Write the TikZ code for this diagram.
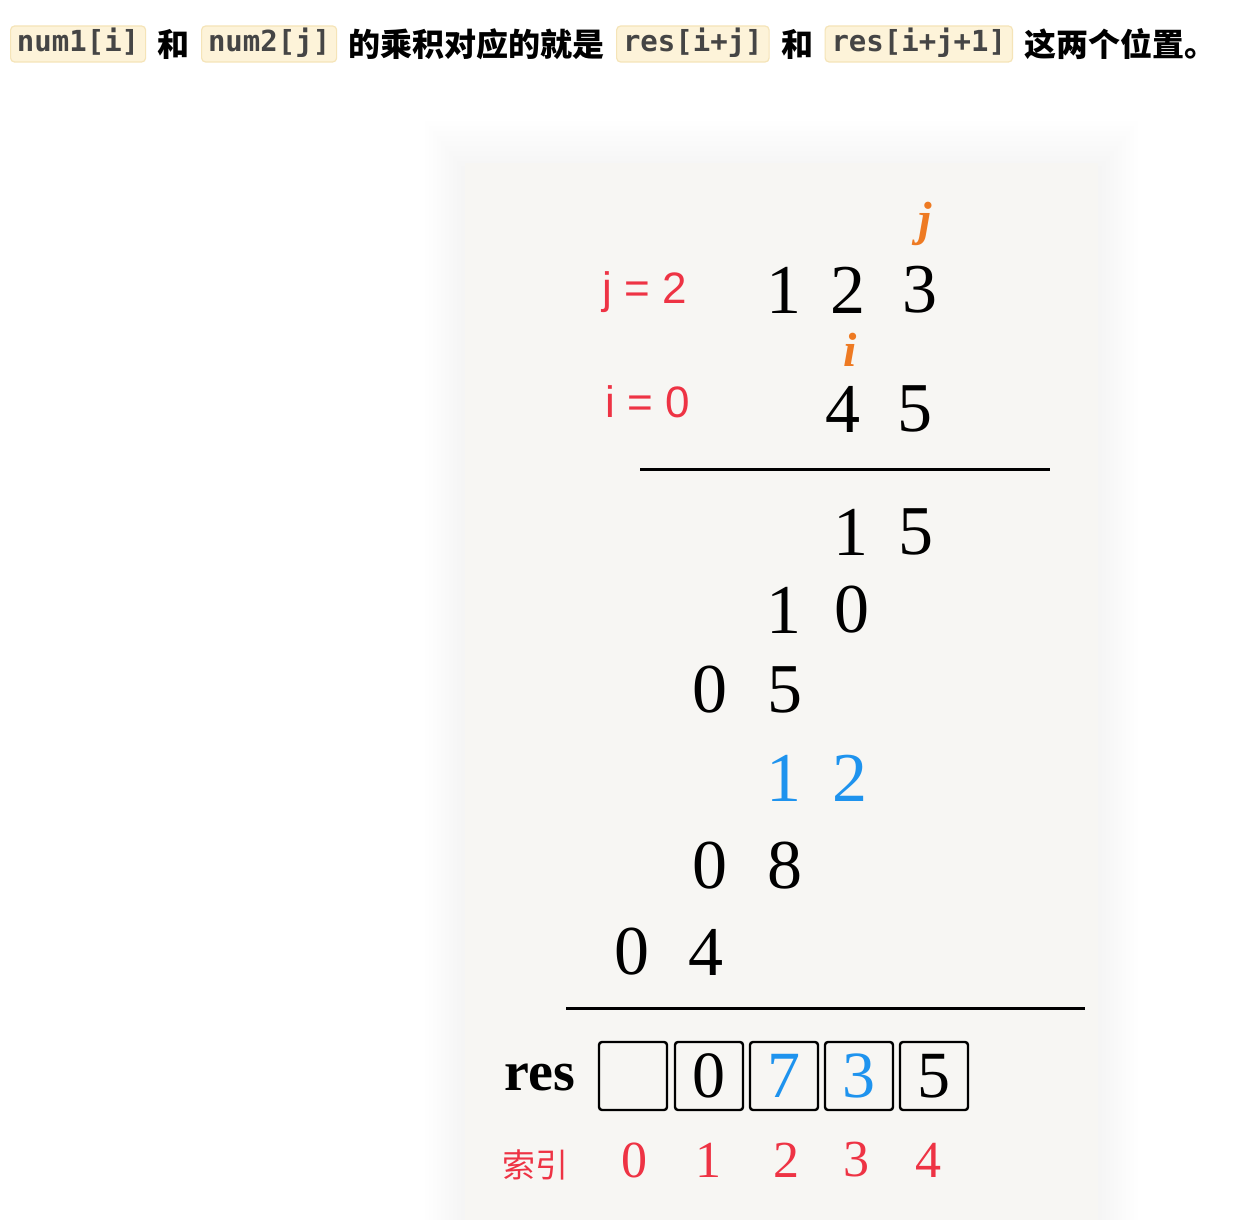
\documentclass[tikz,border=0pt]{standalone}
\usepackage{fontspec}
\usepackage{xcolor}
\usepackage{tikz}
\usetikzlibrary{positioning}

\setmainfont{Liberation Serif}
\newfontfamily\codefont{DejaVu Sans Mono}
\newfontfamily\cjkfont{Noto Sans CJK SC}
\newfontfamily\labelfont{Liberation Sans}

\definecolor{chipfill}{HTML}{FDF3D9}
\definecolor{chipline}{HTML}{F5E4B8}
\definecolor{codegray}{HTML}{454545}
\definecolor{paper}{HTML}{F7F6F3}
\definecolor{idxred}{HTML}{EE3344}
\definecolor{carryblue}{HTML}{1E93EE}
\definecolor{ptrorange}{HTML}{EE7A22}

\begin{document}
\begin{tikzpicture}[
  x=0.5pt, y=-0.5pt,
  node distance=5.5pt,
  chip/.style={fill=chipfill, draw=chipline, line width=0.6pt,
               rounded corners=2pt, inner xsep=3.2pt, inner ysep=1.5pt,
               text height=11.5pt, text depth=3.5pt, text=codegray,
               font=\codefont\bfseries\fontsize{14.5}{16}\selectfont},
  cn/.style={inner sep=0pt, font=\cjkfont\bfseries\fontsize{16}{18}\selectfont},
  digit/.style={inner sep=0pt, font=\fontsize{35}{40}\selectfont},
  varlabel/.style={inner sep=0pt, text=idxred, font=\labelfont\fontsize{22}{24}\selectfont},
  ptr/.style={inner sep=0pt, text=ptrorange, font=\itshape\bfseries\fontsize{24}{26}\selectfont},
  cell/.style={draw, line width=1.2pt, rounded corners=1.5pt, minimum size=34pt,
               inner sep=0pt, font=\fontsize{33}{36}\selectfont},
  idx/.style={inner sep=0pt, text=idxred, font=\fontsize{26}{28}\selectfont},
  rule/.style={line width=1.5pt}
]
  \useasboundingbox (0,0) rectangle (1244,1220);
  \fill[white] (0,0) rectangle (1244,1220);

  % header sentence
  \node[chip, anchor=west] (n1) at (10,44) {num1[i]};
  \node[cn, right=of n1] (he1) {和};
  \node[chip, right=of he1] (n2) {num2[j]};
  \node[cn, right=of n2] (prod) {的乘积对应的就是};
  \node[chip, right=of prod] (r1) {res[i+j]};
  \node[cn, right=of r1] (he2) {和};
  \node[chip, right=of he2] (r2) {res[i+j+1]};
  \node[cn, right=of r2] (place) {这两个位置。};

  % paper with soft shadow
  \foreach \s in {1,...,10}
    \fill[black, opacity=0.005] (465-4*\s,163-5*\s+8) rectangle (1098+4*\s,1220);
  \fill[paper] (465,163) rectangle (1098,1220);

  % factors
  \node[varlabel] (jlab) at (645,292) {j = 2};
  \node[varlabel] (ilab) at (648,402) {i = 0};
  \node[digit] (a1) at (784,290) {1};
  \node[digit] (a2) at (848,290) {2};
  \node[digit] (a3) at (920,290) {3};
  \node[digit] (b1) at (843,409) {4};
  \node[digit] (b2) at (915,409) {5};
  \node[ptr] (jptr) at (925,224) {j};
  \node[ptr] (iptr) at (850,350) {i};

  \coordinate (ruleAl) at (640,469);
  \coordinate (ruleAr) at (1050,469);
  \draw[rule] (ruleAl) -- (ruleAr);

  % partial products
  \node[digit] (p1a) at (851,532) {1};
  \node[digit] (p1b) at (916,532) {5};
  \node[digit] (p2a) at (784,610) {1};
  \node[digit] (p2b) at (852,610) {0};
  \node[digit] (p3a) at (710,690) {0};
  \node[digit] (p3b) at (785,690) {5};
  \node[digit, text=carryblue] (p4a) at (784,778) {1};
  \node[digit, text=carryblue] (p4b) at (850,778) {2};
  \node[digit] (p5a) at (710,866) {0};
  \node[digit] (p5b) at (785,866) {8};
  \node[digit] (p6a) at (632,952) {0};
  \node[digit] (p6b) at (706,952) {4};

  \coordinate (ruleBl) at (566,1008);
  \coordinate (ruleBr) at (1085,1008);
  \draw[rule] (ruleBl) -- (ruleBr);

  % result array
  \node[inner sep=0pt, font=\bfseries\fontsize{28}{30}\selectfont] (res) at (540,1078) {res};
  \foreach \k/\x/\v/\c in {0/633/{}/black, 1/709/0/black, 2/784/7/carryblue,
                           3/859/3/carryblue, 4/934/5/black}
    \node[cell, text=\c] (cell\k) at (\x,1076) {\v};

  \node[inner sep=0pt, text=idxred, font=\cjkfont\fontsize{16.5}{18}\selectfont] (suoyin) at (535,1165) {索引};
  \foreach \k/\x in {0/634, 1/708, 2/786, 3/856, 4/928}
    \node[idx] (idx\k) at (\x,1160) {\k};
\end{tikzpicture}
\end{document}
